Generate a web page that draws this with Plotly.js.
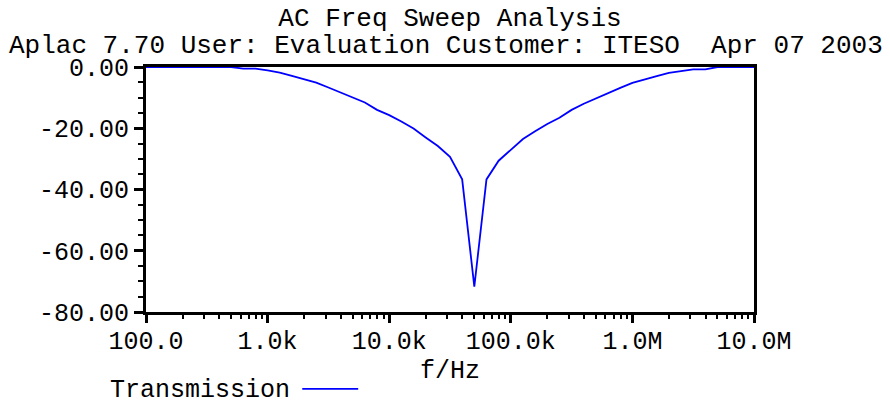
<!DOCTYPE html>
<html>
<head>
<meta charset="utf-8">
<script src="https://cdn.plot.ly/plotly-3.0.1.min.js"></script>
<style>html,body{margin:0;padding:0;background:#fff;}#chart{width:890px;height:404px;}</style>
</head>
<body>
<div id="chart"></div>
<script>
// Sweep frequencies (Hz)
const freqHz = [100, 125.9, 158.5, 199.5, 251.2, 316.2, 398.1, 501.2, 631.0, 794.3,
  1000, 1259, 1585, 1995, 2512, 3162, 3981, 5012, 6310, 7943,
  10000, 12589, 15849, 19953, 25119, 31623, 39811, 50119, 63096, 79433,
  100000, 125893, 158489, 199526, 251189, 316228, 398107, 501187, 630957, 794328,
  1000000, 1258925, 1584893, 1995262, 2511886, 3162278, 3981072, 5011872, 6309573, 7943282, 10000000];
// Transmission (dB)
const transmission = [0, 0, 0, 0, 0, 0, 0, 0, -0.54, -0.54,
  -1.1, -1.8, -2.9, -4.0, -5.1, -6.7, -8.4, -10.0, -11.6, -14.0,
  -15.7, -17.8, -20.1, -23.0, -25.8, -29.3, -36.7, -71.7, -36.7, -30.6,
  -27.1, -23.5, -21.0, -18.6, -16.6, -14.0, -12.0, -10.2, -8.6, -6.8,
  -5.2, -4.2, -3.0, -1.9, -1.3, -0.76, -0.76, 0, 0, 0, 0];

const xTickVals = [100, 1000, 10000, 100000, 1000000, 10000000];
const xTickText = ["100.0", "1.0k", "10.0k", "100.0k", "1.0M", "10.0M"];
const yTickVals = [0, -20, -40, -60, -80];
const yTickText = ["0.00", "-20.00", "-40.00", "-60.00", "-80.00"];

const titleLine1 = "AC Freq Sweep Analysis";
const titleLine2 = "Aplac 7.70 User: Evaluation Customer: ITESO\u00a0\u00a0Apr 07 2003";
const seriesName = "Transmission";
const xTitle = "f/Hz";

const FONT = "'Liberation Mono', 'Courier New', monospace";
const FS = 25;

// minor tick positions for log axis (2..9 within each decade)
const xMinor = [];
for (let d = 100; d < 10000000; d *= 10) {
  for (let m = 2; m <= 9; m++) xMinor.push(d * m);
}

const trace = {
  x: freqHz, y: transmission, type: 'scatter', mode: 'lines',
  name: seriesName, line: {color: '#0000ff', width: 1.8}, showlegend: false
};

const layout = {
  width: 890, height: 404,
  margin: {l: 146, r: 136, t: 67, b: 92},
  paper_bgcolor: '#fff', plot_bgcolor: '#fff',
  font: {family: FONT, size: FS, color: '#000'},
  title: {text: titleLine1, x: 0.5, xref: 'paper', xanchor: 'center', y: 0.958, yref: 'container', yanchor: 'middle',
          font: {family: FONT, size: 26, color: '#000'}},
  xaxis: {
    type: 'log', range: [2, 7], showgrid: false, zeroline: false,
    showline: true, linecolor: '#000', linewidth: 3, mirror: true,
    ticks: 'outside', ticklen: 8, tickwidth: 3, tickcolor: '#000',
    tickvals: xTickVals, ticktext: xTickText, ticklabelstandoff: -4,
    tickfont: {family: FONT, size: FS, color: '#000'},
    minor: {tickvals: xMinor, ticks: 'outside', ticklen: 4, tickwidth: 2, tickcolor: '#000', showgrid: false},
    title: {text: xTitle, standoff: 0, font: {family: FONT, size: FS, color: '#000'}}
  },
  yaxis: {
    range: [-80, 0], showgrid: false, zeroline: false,
    showline: true, linecolor: '#000', linewidth: 3, mirror: true,
    ticks: 'outside', ticklen: 9, tickwidth: 3, tickcolor: '#000',
    tickvals: yTickVals, ticktext: yTickText,
    tickfont: {family: FONT, size: FS, color: '#000'},
    minor: {dtick: 5, ticks: 'outside', ticklen: 5, tickwidth: 2, tickcolor: '#000', showgrid: false}
  },
  annotations: [
    {text: titleLine2, xref: 'paper', yref: 'paper', x: 0.5, y: 1, xshift: -4, yshift: 21, xanchor: 'center', yanchor: 'middle',
     showarrow: false, font: {family: FONT, size: 26, color: '#000'}},
    {text: seriesName, xref: 'paper', yref: 'paper', x: -0.062, y: 0, yshift: -78, xanchor: 'left', yanchor: 'middle',
     showarrow: false, font: {family: FONT, size: FS, color: '#000'}}
  ],
  shapes: [
    {type: 'line', xref: 'paper', yref: 'paper', x0: 0.257, x1: 0.349, y0: -0.314, y1: -0.314,
     line: {color: '#0000ff', width: 1.8}}
  ]
};

Plotly.newPlot('chart', [trace], layout, {staticPlot: true, displayModeBar: false});
</script>
</body>
</html>
